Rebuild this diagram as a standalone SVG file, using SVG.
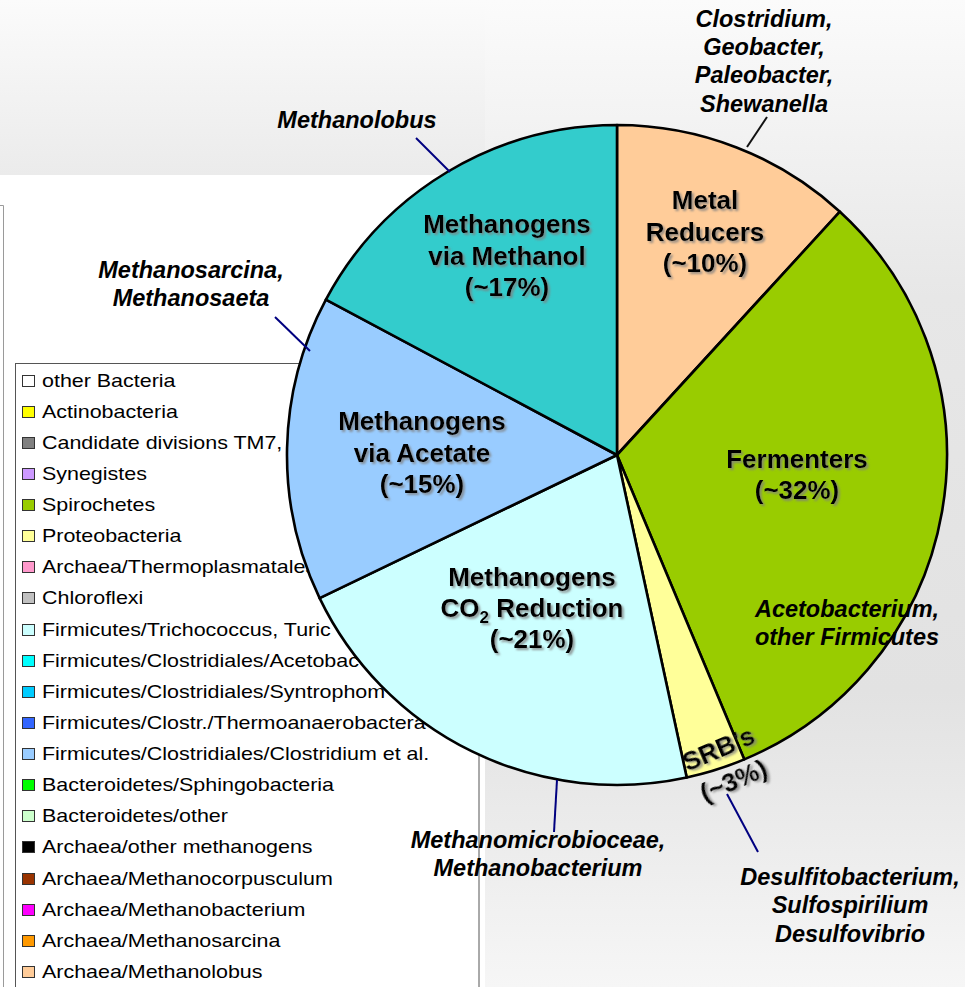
<svg xmlns="http://www.w3.org/2000/svg" width="965" height="987" viewBox="0 0 965 987">
  <defs>
    <linearGradient id="bandTop" x1="0" y1="0" x2="0" y2="1">
      <stop offset="0" stop-color="#fbfbfb"/>
      <stop offset="1" stop-color="#ebebeb"/>
    </linearGradient>
    <linearGradient id="panelRight" x1="0" y1="0" x2="0" y2="1">
      <stop offset="0" stop-color="#fbfbfb"/>
      <stop offset="0.3" stop-color="#e7e7e7"/>
      <stop offset="0.7" stop-color="#e2e2e2"/>
      <stop offset="1" stop-color="#f6f6f6"/>
    </linearGradient>
    <filter id="shadow" x="-10%" y="-20%" width="130%" height="150%">
      <feDropShadow dx="2" dy="2" stdDeviation="1" flood-color="#808080" flood-opacity="0.8"/>
    </filter>
  </defs>
  <style>
    .slice { stroke: #000; stroke-width: 2.6; stroke-linejoin: round; }
    .big { font-family: "Liberation Sans", Arial, sans-serif; font-weight: bold; font-size: 26px; fill: #000; text-anchor: middle; filter: url(#shadow); }
    .genus { font-family: "Liberation Sans", Arial, sans-serif; font-weight: bold; font-style: italic; font-size: 23.5px; fill: #000; text-anchor: middle; }
    .lead { stroke: #000080; stroke-width: 2; fill: none; }
    .lead.dark { stroke: #111; }
    .leg { font-family: "Liberation Sans", Arial, sans-serif; font-size: 18.5px; fill: #000; }
    .sw { stroke: #333; stroke-width: 1; }
  </style>

  <!-- backdrop -->
  <rect x="0" y="0" width="965" height="987" fill="#ffffff"/>
  <rect x="0" y="0" width="485" height="175" fill="url(#bandTop)"/>
  <rect x="485" y="0" width="480" height="987" fill="url(#panelRight)"/>
  <path d="M0,205.5 H3.5 V987" fill="none" stroke="#9a9a9a" stroke-width="1"/>

  <!-- legend -->
  <g id="legend">
    <rect x="15.5" y="363.5" width="463.5" height="640" fill="#ffffff" stroke="#555" stroke-width="1"/>
    <rect class="sw" x="22.5" y="375.5" width="12" height="11" fill="#ffffff"/>
    <text class="leg" transform="translate(42,386.5) scale(1.16,1)">other Bacteria</text>
    <rect class="sw" x="22.5" y="406.5" width="12" height="11" fill="#ffff00"/>
    <text class="leg" transform="translate(42,417.5) scale(1.16,1)">Actinobacteria</text>
    <rect class="sw" x="22.5" y="437.5" width="12" height="11" fill="#808080"/>
    <text class="leg" transform="translate(42,448.5) scale(1.16,1)">Candidate divisions TM7,</text>
    <rect class="sw" x="22.5" y="468.5" width="12" height="11" fill="#cc99ff"/>
    <text class="leg" transform="translate(42,479.5) scale(1.16,1)">Synegistes</text>
    <rect class="sw" x="22.5" y="499.5" width="12" height="11" fill="#99cc00"/>
    <text class="leg" transform="translate(42,510.5) scale(1.16,1)">Spirochetes</text>
    <rect class="sw" x="22.5" y="530.5" width="12" height="11" fill="#ffff99"/>
    <text class="leg" transform="translate(42,541.5) scale(1.16,1)">Proteobacteria</text>
    <rect class="sw" x="22.5" y="561.5" width="12" height="11" fill="#ff99cc"/>
    <text class="leg" transform="translate(42,572.5) scale(1.16,1)">Archaea/Thermoplasmatales</text>
    <rect class="sw" x="22.5" y="592.5" width="12" height="11" fill="#c0c0c0"/>
    <text class="leg" transform="translate(42,603.5) scale(1.16,1)">Chloroflexi</text>
    <rect class="sw" x="22.5" y="624.5" width="12" height="11" fill="#ccffff"/>
    <text class="leg" transform="translate(42,635.5) scale(1.16,1)">Firmicutes/Trichococcus, Turic</text>
    <rect class="sw" x="22.5" y="655.5" width="12" height="11" fill="#00ffff"/>
    <text class="leg" transform="translate(42,666.5) scale(1.16,1)">Firmicutes/Clostridiales/Acetobac</text>
    <rect class="sw" x="22.5" y="686.5" width="12" height="11" fill="#00ccff"/>
    <text class="leg" transform="translate(42,697.5) scale(1.16,1)">Firmicutes/Clostridiales/Syntrophom</text>
    <rect class="sw" x="22.5" y="717.5" width="12" height="11" fill="#3366ff"/>
    <text class="leg" transform="translate(42,728.5) scale(1.16,1)">Firmicutes/Clostr./Thermoanaerobactera</text>
    <rect class="sw" x="22.5" y="748.5" width="12" height="11" fill="#99ccff"/>
    <text class="leg" transform="translate(42,759.5) scale(1.16,1)">Firmicutes/Clostridiales/Clostridium et al.</text>
    <rect class="sw" x="22.5" y="779.5" width="12" height="11" fill="#00ff00"/>
    <text class="leg" transform="translate(42,790.5) scale(1.16,1)">Bacteroidetes/Sphingobacteria</text>
    <rect class="sw" x="22.5" y="810.5" width="12" height="11" fill="#ccffcc"/>
    <text class="leg" transform="translate(42,821.5) scale(1.16,1)">Bacteroidetes/other</text>
    <rect class="sw" x="22.5" y="841.5" width="12" height="11" fill="#000000"/>
    <text class="leg" transform="translate(42,852.5) scale(1.16,1)">Archaea/other methanogens</text>
    <rect class="sw" x="22.5" y="873.5" width="12" height="11" fill="#993300"/>
    <text class="leg" transform="translate(42,884.5) scale(1.16,1)">Archaea/Methanocorpusculum</text>
    <rect class="sw" x="22.5" y="904.5" width="12" height="11" fill="#ff00ff"/>
    <text class="leg" transform="translate(42,915.5) scale(1.16,1)">Archaea/Methanobacterium</text>
    <rect class="sw" x="22.5" y="935.5" width="12" height="11" fill="#ff9900"/>
    <text class="leg" transform="translate(42,946.5) scale(1.16,1)">Archaea/Methanosarcina</text>
    <rect class="sw" x="22.5" y="966.5" width="12" height="11" fill="#ffcc99"/>
    <text class="leg" transform="translate(42,977.5) scale(1.16,1)">Archaea/Methanolobus</text>
  </g>

  <!-- pie slices, centre (617,455), r 330, clockwise from 12 o'clock -->
  <g id="metal-reducers">
    <path class="slice" fill="#ffcc99" d="M617,455 L617,125 A330,330 0 0 1 839.9,211.7 Z"/>
  </g>
  <g id="fermenters">
    <path class="slice" fill="#99cc00" d="M617,455 L839.9,211.7 A330,330 0 0 1 744.3,759.4 Z"/>
  </g>
  <g id="srb">
    <path class="slice" fill="#ffff99" d="M617,455 L744.3,759.4 A330,330 0 0 1 686.7,777.5 Z"/>
  </g>
  <g id="co2-reduction">
    <path class="slice" fill="#ccffff" d="M617,455 L686.7,777.5 A330,330 0 0 1 319.6,598.1 Z"/>
  </g>
  <g id="acetate">
    <path class="slice" fill="#99ccff" d="M617,455 L319.6,598.1 A330,330 0 0 1 325.9,299.6 Z"/>
  </g>
  <g id="methanol">
    <path class="slice" fill="#33cccc" d="M617,455 L325.9,299.6 A330,330 0 0 1 617,125 Z"/>
  </g>

  <!-- slice captions -->
  <g id="captions">
    <text class="big" x="705" y="209">Metal</text>
    <text class="big" x="705" y="241">Reducers</text>
    <text class="big" x="705" y="272">(~10%)</text>

    <text class="big" x="797" y="468">Fermenters</text>
    <text class="big" x="797" y="499">(~32%)</text>

    <text class="big" x="507" y="233">Methanogens</text>
    <text class="big" x="507" y="265">via Methanol</text>
    <text class="big" x="507" y="296">(~17%)</text>

    <text class="big" x="422" y="430">Methanogens</text>
    <text class="big" x="422" y="462">via Acetate</text>
    <text class="big" x="422" y="493">(~15%)</text>

    <text class="big" x="532" y="586">Methanogens</text>
    <text class="big" x="532" y="617">CO<tspan font-size="17" dy="6">2</tspan><tspan dy="-6"> Reduction</tspan></text>
    <text class="big" x="532" y="648">(~21%)</text>

    <text class="big" transform="translate(722,757) rotate(-23)">SRB’s</text>
    <text class="big" transform="translate(737,789) rotate(-23)">(~3%)</text>
  </g>

  <!-- leader lines -->
  <g id="connectors">
    <line class="lead" x1="416" y1="138" x2="450" y2="172"/>
    <line class="lead" x1="275" y1="317" x2="310" y2="351"/>
    <line class="lead dark" x1="767" y1="117" x2="747" y2="147"/>
    <line class="lead" x1="557" y1="780" x2="554" y2="832"/>
    <line class="lead" x1="727" y1="794" x2="758" y2="852"/>
  </g>

  <!-- genus annotations -->
  <g id="genera">
    <text class="genus" x="357" y="128">Methanolobus</text>
    <text class="genus" x="191" y="278">Methanosarcina,</text>
    <text class="genus" x="191" y="306">Methanosaeta</text>
    <text class="genus" x="764" y="27">Clostridium,</text>
    <text class="genus" x="764" y="55">Geobacter,</text>
    <text class="genus" x="764" y="83">Paleobacter,</text>
    <text class="genus" x="764" y="112">Shewanella</text>
    <text class="genus" x="847" y="617">Acetobacterium,</text>
    <text class="genus" x="847" y="645">other Firmicutes</text>
    <text class="genus" x="538" y="848">Methanomicrobioceae,</text>
    <text class="genus" x="538" y="876">Methanobacterium</text>
    <text class="genus" x="850" y="885">Desulfitobacterium,</text>
    <text class="genus" x="850" y="913">Sulfospirilium</text>
    <text class="genus" x="850" y="942">Desulfovibrio</text>
  </g>
</svg>
